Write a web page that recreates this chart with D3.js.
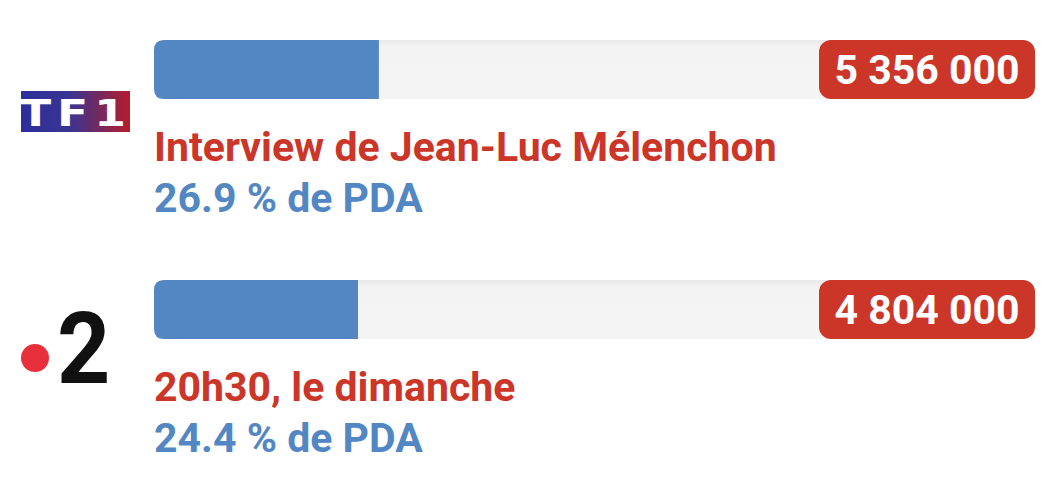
<!DOCTYPE html>
<html><head><meta charset="utf-8">
<script src="https://cdn.jsdelivr.net/npm/d3@7/dist/d3.min.js"></script>
<style>body{margin:0;background:#fff}svg{display:block}</style>
</head><body>
<script>
const channels = ["TF1", "France 2"];
const programmes = ["Interview de Jean-Luc Mélenchon", "20h30, le dimanche"];
const viewers = [5356000, 4804000];
const shares = [26.9, 24.4];

const W = 1054, H = 490;
const svg = d3.select("body").append("svg").attr("width", W).attr("height", H);
const defs = svg.append("defs");
const g1 = defs.append("linearGradient").attr("id","tf1g").attr("x1","0").attr("x2","1");
g1.append("stop").attr("offset","0").attr("stop-color","#2b2f9c");
g1.append("stop").attr("offset","0.45").attr("stop-color","#3a3490");
g1.append("stop").attr("offset","1").attr("stop-color","#b51d2b");
const tg = defs.append("linearGradient").attr("id","track").attr("x1","0").attr("x2","0").attr("y1","0").attr("y2","1");
tg.append("stop").attr("offset","0").attr("stop-color","#e9e9e9");
tg.append("stop").attr("offset","0.12").attr("stop-color","#f3f3f3");
tg.append("stop").attr("offset","1").attr("stop-color","#f4f4f4");

const x = d3.scaleLinear().domain([0, 100]).range([0, 836]);
const y = d3.scaleBand().domain(channels).range([40, 520]).paddingInner(0);
const x0 = 154, barH = 59, trackW = 880;
const fmt = v => d3.format(",")(v).replace(/,/g, " ");
const font = "Roboto, 'Liberation Sans', sans-serif";

const rows = svg.selectAll("g.row").data(channels).join("g").attr("class","row")
  .attr("transform", d => `translate(0,${y(d)})`);

rows.append("rect").attr("x", x0).attr("y", 0).attr("width", trackW).attr("height", barH)
  .attr("rx", 10).attr("fill", "url(#track)");

// blue bar: rounded left only
rows.append("path").attr("fill", "#5287c4")
  .attr("d", (d,i) => {
    const w = x(shares[i]), r = 10;
    return `M${x0+w},0 L${x0+r},0 Q${x0},0 ${x0},${r} L${x0},${barH-r} Q${x0},${barH} ${x0+r},${barH} L${x0+w},${barH} Z`;
  });

// badge
rows.append("rect").attr("x", 819).attr("y", 0).attr("width", 216).attr("height", barH)
  .attr("rx", 12).attr("fill", "#cc3629");
rows.append("text").attr("x", 927).attr("y", 44).attr("text-anchor","middle")
  .attr("font-family", font).attr("font-weight", 700).attr("font-size", 41)
  .attr("fill", "#fff").text((d,i) => fmt(viewers[i]));

rows.append("text").attr("x", x0).attr("y", 121).attr("font-family", font)
  .attr("font-weight", 700).attr("font-size", 41).attr("fill", "#cc3629")
  .text((d,i) => programmes[i]);
rows.append("text").attr("x", x0).attr("y", 172).attr("font-family", font)
  .attr("font-weight", 700).attr("font-size", 41).attr("fill", "#5287c4")
  .text((d,i) => d3.format(".1f")(shares[i]) + " % de PDA");

// logos
const tf1 = svg.append("g").attr("transform", `translate(0,${y("TF1")})`);
tf1.append("rect").attr("x", 21).attr("y", 51).attr("width", 109).attr("height", 41).attr("fill", "url(#tf1g)");
tf1.append("text").attr("transform", "translate(76,86) scale(1.2,1)").attr("text-anchor","middle")
  .attr("font-family", "'DejaVu Sans', sans-serif").attr("font-weight", 700).attr("font-size", 38)
  .attr("letter-spacing", 5).attr("fill", "#fff").text("TF1");

const f2 = svg.append("g").attr("transform", `translate(0,${y("France 2")})`);
f2.append("circle").attr("cx", 35).attr("cy", 78).attr("r", 14).attr("fill", "#e8303d");
f2.append("text").attr("transform", "translate(57,103) scale(0.93,1)").attr("font-family", font)
  .attr("font-weight", 700).attr("font-size", 100).attr("fill", "#111").text("2");
</script>
</body></html>
